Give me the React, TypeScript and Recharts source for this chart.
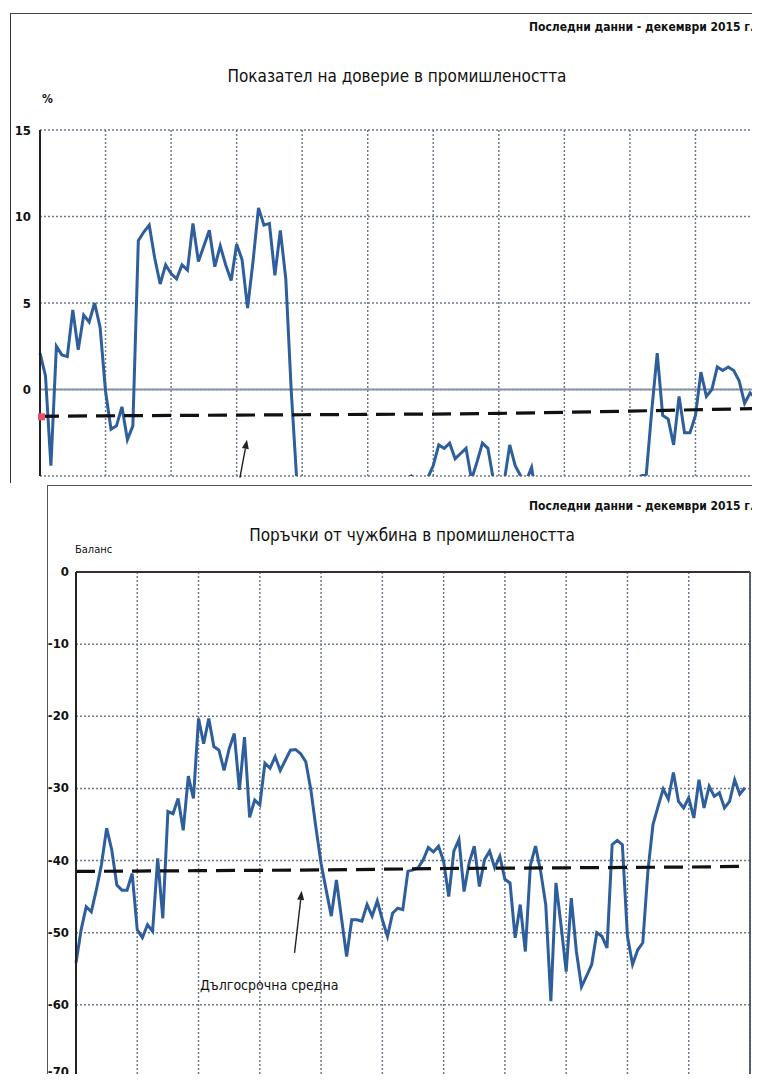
import React from "react";
import { LineChart, Line, XAxis, YAxis, CartesianGrid, ReferenceLine } from "recharts";

// monthly data, Jan 2005 - Dec 2015
const years = [2005, 2006, 2007, 2008, 2009, 2010, 2011, 2012, 2013, 2014, 2015];

const confidence = [
  2.1, 0.8, -4.4, 2.5, 2.0, 1.9, 4.6, 2.3, 4.3, 3.9, 5.0, 3.6,
  -0.1, -2.3, -2.1, -1.0, -2.9, -2.1, 8.6, 9.1, 9.5, 7.6, 6.1, 7.2,
  6.7, 6.4, 7.2, 6.9, 9.6, 7.4, 8.3, 9.2, 7.1, 8.3, 7.2, 6.3,
  8.4, 7.5, 4.7, 7.4, 10.5, 9.5, 9.6, 6.6, 9.2, 6.4, -0.1, -5.2,
  -10, -14, -17, -19, -21, -20, -19, -18, -17, -16, -15, -14,
  -13, -12, -10, -9, -8, -7, -6, -5.2, -5.0, -5.3, -5.6, -5.1,
  -4.4, -3.2, -3.4, -3.1, -4.0, -3.7, -3.4, -5.2, -4.2, -3.1, -3.4, -5.2,
  -5.6, -5.3, -3.2, -4.4, -5.0, -5.3, -4.5, -6.5, -7, -7.5, -8, -8.5,
  -9, -8.5, -8, -8.5, -7.5, -7, -7.5, -8, -7, -6.5, -7, -6.5,
  -6, -5.8, -5.0, -4.9, -1.2, 2.1, -1.5, -1.7, -3.2, -0.4, -2.5, -2.5,
  -1.5, 1.0, -0.4, 0.0, 1.3, 1.1, 1.3, 1.1, 0.5, -0.8, -0.2, -0.5,
];

const orders = [
  -54.2, -49.6, -46.4, -47.1, -44.0, -40.5, -35.5, -38.5, -43.4, -44.1, -44.1, -41.8,
  -49.6, -50.7, -48.9, -49.8, -39.7, -48.0, -33.2, -33.5, -31.4, -35.8, -28.3, -31.4,
  -20.3, -23.8, -20.3, -24.2, -24.7, -27.5, -24.5, -22.4, -30.2, -22.9, -34.0, -31.6,
  -32.3, -26.5, -27.2, -25.6, -27.5, -26.1, -24.7, -24.6, -25.2, -26.3, -30.2, -35.5,
  -40.4, -44.1, -47.7, -42.7, -48.0, -53.3, -48.2, -48.2, -48.4, -46.1, -47.7, -45.6,
  -48.2, -50.5, -47.3, -46.6, -46.8, -41.5, -41.3, -41.0, -39.9, -38.2, -38.8, -38.0,
  -40.1, -45.0, -38.7, -37.1, -44.3, -40.3, -38.0, -43.6, -39.9, -38.7, -41.0, -39.4,
  -42.6, -43.1, -50.7, -46.1, -52.6, -40.6, -38.0, -41.5, -46.1, -59.5, -43.1, -49.0,
  -55.4, -45.2, -52.6, -57.5, -56.0, -54.4, -50.0, -50.5, -52.1, -37.8, -37.2, -37.8,
  -50.5, -54.4, -52.4, -51.4, -41.5, -35.0, -32.5, -30.1, -31.5, -27.8, -31.8, -32.7,
  -31.3, -34.1, -28.8, -32.7, -29.7, -31.1, -30.6, -32.7, -31.8, -28.8, -30.8, -29.9,
];

// long-term average, read at the start of each year and at the last month
const avgMonths = [0, 12, 24, 36, 48, 60, 72, 84, 96, 108, 120, 131];
const confidenceAvg = [-1.55, -1.52, -1.5, -1.48, -1.46, -1.44, -1.42, -1.38, -1.32, -1.25, -1.17, -1.1];
const ordersAvg = [-41.5, -41.45, -41.4, -41.35, -41.3, -41.2, -41.1, -41.05, -41.0, -40.95, -40.9, -40.8];

const confidenceTicks = [-5, 0, 5, 10, 15];
const ordersTicks = [-70, -60, -50, -40, -30, -20, -10, 0];
const monthTicks = [...years.map((_, i) => i * 12), years.length * 12];

const buildRows = (values: number[], avg: number[]) =>
  values.map((v, i) => {
    const k = avgMonths.indexOf(i);
    return { m: i, value: v, avg: k >= 0 ? avg[k] : null };
  });

const confidenceRows = buildRows(confidence, confidenceAvg);
const ordersRows = buildRows(orders, ordersAvg);

const FONT = "'DejaVu Sans', sans-serif";
const BLUE = "#2f5e9c";
const GRID = "#6d7b8d";

function Arrow(props: any) {
  const { x1, y1, x2, y2 } = props;
  const a = Math.atan2(y2 - y1, x2 - x1);
  const bx = x2 - 9 * Math.cos(a);
  const by = y2 - 9 * Math.sin(a);
  const pts = `${x2},${y2} ${bx + 3.5 * Math.sin(a)},${by - 3.5 * Math.cos(a)} ${bx - 3.5 * Math.sin(a)},${by + 3.5 * Math.cos(a)}`;
  return (
    <g>
      <line x1={x1} y1={y1} x2={bx} y2={by} stroke="#222" strokeWidth={1.4} />
      <polygon points={pts} fill="#222" />
    </g>
  );
}

// month axis keeps its ticks (for the grid) but draws no labels
const NoTick = () => <g />;

const tickStyle = { fontSize: 13, fill: "#111", fontFamily: FONT, fontWeight: 700, fontStretch: "condensed" };
const textBase = { position: "absolute" as const, color: "#111", fontStretch: "condensed" as const, whiteSpace: "nowrap" as const };

// bottom chart labels; the lowest one sits right on the page edge, so lift it a little
function OrdersTick(props: any) {
  const { x, y, payload } = props;
  const dy = payload.value === -70 ? -1 : 4;
  return (
    <text x={x} y={y + dy} textAnchor="end" {...tickStyle}>
      {payload.value}
    </text>
  );
}

export default function App() {
  return (
    <div style={{ position: "relative", width: 760, height: 1082, margin: -8, overflow: "hidden", background: "#fff", fontFamily: FONT }}>
      {/* top chart */}
      <div style={{ position: "absolute", left: 0, top: 0, width: 760, height: 483, overflow: "hidden" }}>
        <div style={{ position: "absolute", left: 10, top: 13, width: 800, height: 500, borderLeft: "1.5px solid #333", borderTop: "1.5px solid #444" }} />
        <div style={{ ...textBase, right: 6, top: 20, fontSize: 12, fontWeight: 700 }}>
          Последни данни - декември 2015 г.
        </div>
        <div style={{ ...textBase, left: 0, width: 794, top: 66, textAlign: "center", fontSize: 17 }}>
          Показател на доверие в промишлеността
        </div>
        <div style={{ ...textBase, left: 42, top: 92, fontSize: 12, fontWeight: 700 }}>%</div>
        <div style={{ position: "absolute", left: 0, top: 0 }}>
          <LineChart width={800} height={482} data={confidenceRows} margin={{ top: 130, right: 39, bottom: 5, left: 0 }}>
            <CartesianGrid stroke={GRID} strokeDasharray="2 2" strokeWidth={1.5} />
            <XAxis dataKey="m" type="number" domain={[0, 132]} ticks={monthTicks} interval={0} tick={NoTick} tickLine={false} axisLine={false} height={1} />
            <YAxis
              type="number"
              domain={[-5, 15]}
              allowDataOverflow
              ticks={confidenceTicks}
              width={40}
              tickSize={0}
              tickMargin={9}
              tick={tickStyle}
              axisLine={{ stroke: "#222", strokeWidth: 2 }}
              tickLine={false}
            />
            <ReferenceLine y={0} stroke="#8a95a3" strokeWidth={2} />
            <Line dataKey="value" stroke={BLUE} strokeWidth={3} dot={false} isAnimationActive={false} />
            <Line
              dataKey="avg"
              connectNulls
              stroke="#111"
              strokeWidth={3.2}
              strokeDasharray="19 9"
              isAnimationActive={false}
              dot={(p: any) =>
                p.index === 0 ? (
                  <rect key="d0" x={p.cx - 2} y={p.cy - 3} width={7} height={7} fill="#e8506a" />
                ) : (
                  <g key={`d${p.index}`} />
                )
              }
            />
            <ReferenceLine ifOverflow="visible" segment={[{ x: 36.6, y: -5.1 }, { x: 37.9, y: -2.9 }]} shape={Arrow} />
          </LineChart>
        </div>
      </div>

      {/* bottom chart */}
      <div style={{ position: "absolute", left: 0, top: 483, width: 760, height: 599, overflow: "hidden", background: "#fff" }}>
        <div style={{ position: "absolute", left: 47, top: 2, width: 800, height: 700, borderLeft: "1.5px solid #555", borderTop: "1.5px solid #555" }} />
        <div style={{ ...textBase, right: 6, top: 16, fontSize: 12, fontWeight: 700 }}>
          Последни данни - декември 2015 г.
        </div>
        <div style={{ ...textBase, left: 0, width: 824, top: 42, textAlign: "center", fontSize: 17 }}>
          Поръчки от чужбина в промишлеността
        </div>
        <div style={{ ...textBase, left: 75, top: 60, fontSize: 11 }}>Баланс</div>
        <div style={{ ...textBase, left: 200, top: 494, fontSize: 14 }}>Дългосрочна средна</div>
        <div style={{ position: "absolute", left: 0, top: 0 }}>
          <LineChart width={760} height={620} data={ordersRows} margin={{ top: 89, right: 10, bottom: 25, left: 0 }}>
            <CartesianGrid stroke={GRID} strokeDasharray="2 2" strokeWidth={1.5} />
            <XAxis dataKey="m" type="number" domain={[0, 132]} ticks={monthTicks} interval={0} tick={NoTick} tickLine={false} axisLine={false} height={1} />
            <YAxis
              type="number"
              domain={[-70, 0]}
              ticks={ordersTicks}
              width={76}
              tickSize={0}
              tickMargin={7}
              tick={OrdersTick}
              axisLine={{ stroke: "#222", strokeWidth: 2 }}
              tickLine={false}
            />
            <ReferenceLine y={0} stroke="#3a3030" strokeWidth={1.8} />
            <ReferenceLine x={132} stroke="#4a5564" strokeWidth={1.8} />
            <Line dataKey="value" stroke={BLUE} strokeWidth={3} dot={false} isAnimationActive={false} />
            <Line dataKey="avg" connectNulls stroke="#111" strokeWidth={3.2} strokeDasharray="19 9" dot={false} isAnimationActive={false} />
            <ReferenceLine segment={[{ x: 42.8, y: -52.8 }, { x: 44.2, y: -44.2 }]} shape={Arrow} />
          </LineChart>
        </div>
      </div>
    </div>
  );
}
